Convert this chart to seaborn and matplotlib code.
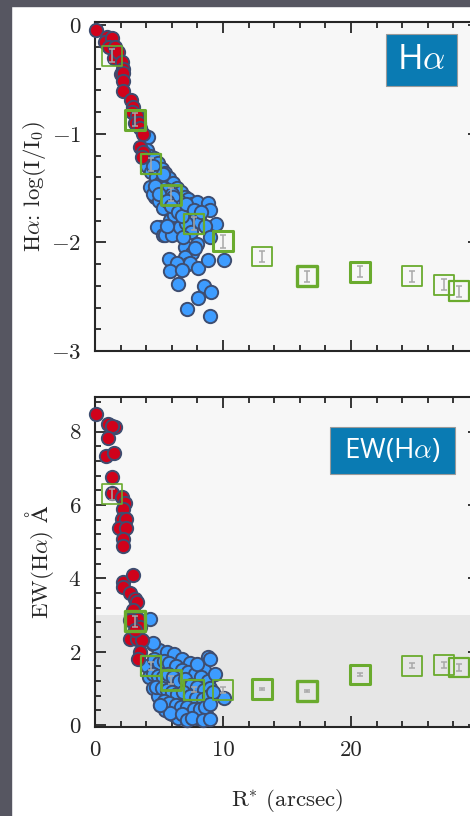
import matplotlib
matplotlib.use("Agg")
import matplotlib.pyplot as plt
import seaborn as sns
from matplotlib.patches import Rectangle
from matplotlib.ticker import MultipleLocator

# --- data ---
# mean profile (green squares), same radii in both panels
sq_r = [1.30, 3.12, 4.35, 5.91, 7.76, 10.0, 13.05, 16.56, 20.73, 24.77, 27.3, 28.46]
sq_ha = [-0.28, -0.87, -1.28, -1.56, -1.83, -1.99, -2.13, -2.31, -2.27, -2.31, -2.39, -2.45]
sq_ha_err = [0.06, 0.06, 0.06, 0.06, 0.06, 0.06, 0.05, 0.05, 0.05, 0.05, 0.05, 0.05]
sq_ha_lw = [1.2, 2.2, 1.6, 2.0, 1.6, 2.2, 1.3, 2.4, 2.2, 1.3, 1.3, 1.6]
sq_ew = [6.29, 2.83, 1.62, 1.23, 0.97, 0.95, 0.98, 0.94, 1.38, 1.62, 1.65, 1.57]
sq_ew_err = [0.15, 0.15, 0.11, 0.1, 0.06, 0.08, 0.03, 0.03, 0.03, 0.06, 0.08, 0.1]
sq_ew_lw = [1.2, 2.4, 1.6, 2.0, 1.6, 1.3, 2.2, 2.4, 2.2, 1.3, 1.3, 1.6]

# inner spaxels (red), H-alpha profile
red_ha_r = [0.08, 0.91, 0.78, 1.30, 1.1, 1.5, 1.6, 1.82, 2.08, 2.21, 2.0, 2.21, 2.21, 2.16,
            2.78, 3.0, 2.9, 3.26, 3.1, 3.46, 3.52, 3.77, 3.52, 3.77, 3.65]
red_ha = [-0.04, -0.11, -0.15, -0.12, -0.2, -0.3, -0.2, -0.25, -0.34, -0.40, -0.45, -0.44, -0.51, -0.61,
          -0.69, -0.75, -0.8, -0.84, -0.9, -0.90, -0.95, -1.0, -1.12, -1.17, -1.21]

# outer spaxels (blue), H-alpha profile
blue_ha_r = [4.17, 4.05, 4.3, 4.6, 4.9, 5.2, 5.5, 5.8, 6.1, 6.4, 6.7, 7.0, 7.3, 7.6, 7.94, 8.85, 9.0,
             4.1, 4.4, 4.56, 4.8, 5.1, 5.34, 5.4, 5.7, 6.0, 6.3, 6.6, 6.9, 7.2, 7.5, 7.8,
             4.30, 4.69, 4.5, 5.0, 5.3, 6.12, 6.64, 5.86, 5.08, 4.82, 5.34, 5.47, 5.99, 6.64, 6.2,
             7.1, 7.5, 8.2, 9.45, 8.6, 7.99, 8.98, 7.03, 7.55, 7.03, 7.3, 5.81, 6.38, 7.42, 8.07,
             8.85, 10.08, 5.86, 6.51, 8.52, 9.06, 8.02, 7.16, 8.98, 6.8, 7.8,
             4.7, 5.0, 5.6, 5.9, 6.5, 6.8, 7.1, 7.7, 8.3, 5.6, 6.9]
blue_ha = [-1.03, -1.15, -1.2, -1.22, -1.27, -1.32, -1.36, -1.41, -1.45, -1.5, -1.54, -1.58, -1.6, -1.65, -1.63, -1.64, -1.70,
           -1.3, -1.35, -1.30, -1.4, -1.45, -1.37, -1.5, -1.52, -1.55, -1.6, -1.62, -1.68, -1.72, -1.75, -1.78,
           -1.49, -1.58, -1.55, -1.62, -1.68, -1.58, -1.67, -1.79, -1.86, -1.86, -1.93, -1.93, -1.93, -1.86, -1.75,
           -1.82, -1.9, -1.81, -1.83, -1.85, -2.01, -1.95, -2.04, -2.10, -2.13, -2.2, -2.15, -2.19, -2.19, -2.24,
           -2.16, -2.16, -2.26, -2.38, -2.40, -2.46, -2.51, -2.61, -2.68, -2.25, -2.05,
           -1.48, -1.55, -1.62, -1.66, -1.72, -1.76, -1.65, -1.7, -1.72, -1.85, -1.95]

# inner spaxels (red), EW profile
red_ew_r = [0.08, 1.04, 1.56, 1.3, 1.04, 0.86, 1.48, 1.30, 1.30, 2.08, 2.34, 2.16, 2.08, 2.42, 1.90, 2.42,
            2.16, 2.16, 2.21, 2.94, 2.21, 2.73, 3.12, 3.26, 3.0, 3.39, 2.73, 3.52, 2.73, 3.26, 3.65,
            3.52, 3.39, 3.1]
red_ew = [8.49, 8.20, 8.11, 8.15, 7.81, 7.33, 7.42, 6.75, 6.33, 6.22, 6.04, 5.90, 5.63, 5.63, 5.38, 5.36,
          5.08, 4.87, 3.91, 4.09, 3.77, 3.59, 3.45, 3.36, 3.13, 2.90, 2.86, 2.68, 2.36, 2.36, 2.31,
          1.99, 1.81, 2.6]

# outer spaxels (blue), EW profile
blue_ew_r = [4.5, 5.0, 5.6, 6.2, 6.8, 7.4, 8.0, 8.5,
             4.1, 4.2, 4.5, 4.9, 5.1, 5.5, 6.0, 6.5, 7.2, 8.0, 8.7,
             4.6, 5.0, 5.4, 5.8, 6.3, 6.8, 7.3, 7.8, 8.3, 8.8,
             4.5, 4.9, 5.3, 5.7, 6.1, 6.6, 7.0, 7.5, 8.0, 8.5, 9.0,
             4.8, 5.2, 5.6, 6.0, 6.4, 6.9, 7.4, 7.9, 8.4, 8.9,
             5.4, 5.8, 6.3, 6.7, 7.2, 7.7, 8.2, 8.6,
             5.86, 6.8, 7.16, 7.6, 8.4, 8.98,
             8.85, 9.0, 9.37, 10.08, 4.30, 4.56, 9.2, 5.08, 8.98, 7.94]
blue_ew = [2.2, 2.05, 2.0, 1.95, 1.8, 1.7, 1.6, 1.5,
           1.6, 1.3, 1.0, 0.8, 0.55, 0.4, 0.3, 0.2, 0.15, 0.2, 0.3,
           1.8, 1.7, 1.75, 1.7, 1.6, 1.5, 1.45, 1.4, 1.3, 1.2,
           1.4, 1.35, 1.3, 1.4, 1.3, 1.2, 1.25, 1.1, 1.05, 0.95, 1.0,
           1.05, 1.0, 0.95, 0.9, 0.85, 0.9, 0.8, 0.75, 0.7, 0.8,
           0.65, 0.6, 0.55, 0.5, 0.5, 0.45, 0.45, 0.5,
           0.32, 0.3, 0.14, 0.2, 0.15, 0.18,
           1.86, 1.8, 1.39, 0.73, 2.88, 2.23, 0.9, 0.54, 0.59, 1.66]

# --- style ---
sns.set_style("ticks")
plt.rcParams["font.family"] = "serif"
plt.rcParams["font.serif"] = ["cmr10", "DejaVu Serif"]
plt.rcParams["mathtext.fontset"] = "cm"
plt.rcParams["axes.formatter.use_mathtext"] = True

red = "#d0021b"
blue = "#3d9cff"
edge = "#3e4d70"
green = "#6aab2e"

W, H = 470, 816
fig = plt.figure(figsize=(4.7, 8.16), dpi=100)
fig.patch.set_facecolor("white")

# screenshot frame (dark strip on the left and top)
fig.patches.append(Rectangle((0, 0), 11 / W, 1, transform=fig.transFigure, color="#565661", zorder=0))
fig.patches.append(Rectangle((0, 1 - 6 / H), 1, 6 / H, transform=fig.transFigure, color="#565661", zorder=0))

ax1 = fig.add_axes([95 / W, 1 - 351 / H, 384 / W, 329 / H])
ax2 = fig.add_axes([95 / W, 1 - 727 / H, 384 / W, 330 / H])

for ax in (ax1, ax2):
    ax.set_facecolor("#f7f7f7")
    ax.set_xlim(0, 30)
    ax.set_xticks([0, 10, 20, 30], labels=["0", "10", "20", ""])
    ax.xaxis.set_minor_locator(MultipleLocator(2))
    ax.tick_params(which="both", direction="in", top=True, right=True, width=1.3,
                   labelsize=16.5, pad=10)
    ax.tick_params(which="major", length=8)
    ax.tick_params(which="minor", length=4.5)
    for s in ax.spines.values():
        s.set_linewidth(1.5)

dot = dict(s=92, linewidth=1.4, edgecolor=edge, clip_on=False, legend=False)

# top panel: H-alpha surface brightness
ax1.set_ylim(-3, 0.03)
ax1.yaxis.set_major_locator(MultipleLocator(1))
ax1.yaxis.set_minor_locator(MultipleLocator(0.2))
ax1.tick_params(labelbottom=False)
sns.scatterplot(x=blue_ha_r, y=blue_ha, ax=ax1, color=blue, zorder=3, **dot)
sns.scatterplot(x=red_ha_r, y=red_ha, ax=ax1, color=red, zorder=4, **dot)
ax1.errorbar(sq_r, sq_ha, yerr=sq_ha_err, fmt="none", ecolor="#a8a8a8",
             elinewidth=1.1, capsize=2.5, capthick=1.1, zorder=5)
ax1.scatter(sq_r, sq_ha, marker="s", s=205, facecolors="none", edgecolors=green,
            linewidths=sq_ha_lw, zorder=6, clip_on=False)
ax1.set_ylabel(r"H$\alpha$: log(I/I$_0$)", fontsize=16.5, labelpad=2)

# bottom panel: equivalent width
ax2.set_ylim(-0.05, 8.94)
ax2.axhspan(-0.05, 3, color="#e6e6e6", zorder=0, lw=0)
ax2.yaxis.set_major_locator(MultipleLocator(2))
ax2.yaxis.set_minor_locator(MultipleLocator(0.4))
sns.scatterplot(x=blue_ew_r, y=blue_ew, ax=ax2, color=blue, zorder=3, **dot)
sns.scatterplot(x=red_ew_r, y=red_ew, ax=ax2, color=red, zorder=4, **dot)
ax2.errorbar(sq_r, sq_ew, yerr=sq_ew_err, fmt="none", ecolor="#a8a8a8",
             elinewidth=1.1, capsize=2.5, capthick=1.1, zorder=5)
ax2.scatter(sq_r, sq_ew, marker="s", s=205, facecolors="none", edgecolors=green,
            linewidths=sq_ew_lw, zorder=6, clip_on=False)
ax2.set_ylabel(r"EW(H$\alpha$) $\mathrm{\AA}$", fontsize=16.5, labelpad=9)
ax2.set_xlabel(r"R$^{*}$ (arcsec)", fontsize=16.5, labelpad=19)

# blue tag boxes
box = "#0a7bb3"
fig.patches.append(Rectangle((386 / W, 1 - 86 / H), 71 / W, 52 / H, transform=fig.transFigure,
                             fc=box, ec="#9a9a9a", lw=0.8, zorder=10))
fig.text(421.5 / W, 1 - 60 / H, r"H$\alpha$", color="white", fontsize=25,
         family="Open Sans", ha="center", va="center", zorder=11)
fig.patches.append(Rectangle((330 / W, 1 - 474 / H), 125 / W, 47 / H, transform=fig.transFigure,
                             fc=box, ec="#9a9a9a", lw=0.8, zorder=10))
fig.text(392.5 / W, 1 - 450.5 / H, r"EW(H$\alpha$)", color="white", fontsize=20,
         family="Open Sans", ha="center", va="center", zorder=11)

fig.savefig("out.png", dpi=100)
